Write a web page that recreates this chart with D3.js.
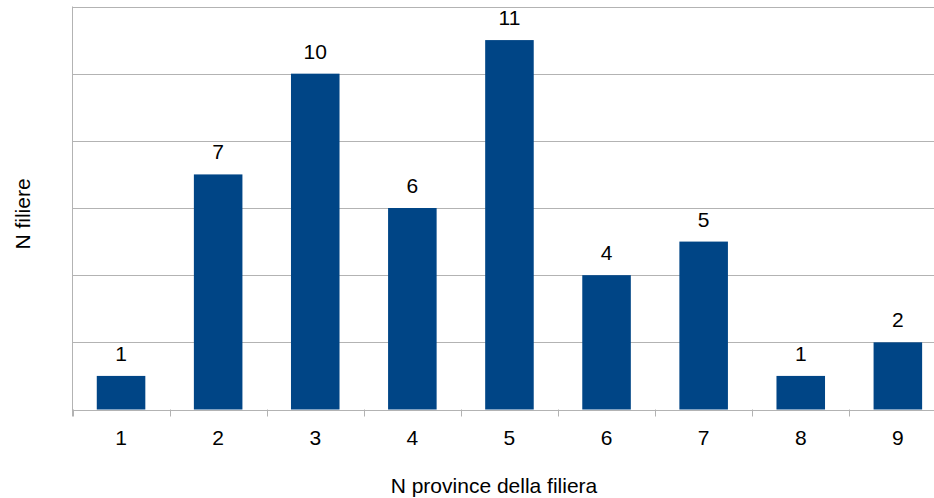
<!DOCTYPE html>
<html>
<head>
<meta charset="utf-8">
<script src="https://cdn.jsdelivr.net/npm/d3@7"></script>
<style>
    body { margin: 0; background: #fff; }
    svg { display: block; font-family: "Liberation Sans", Arial, sans-serif; }
</style>
</head>
<body>
<svg id="chart" width="934" height="498"></svg>
<script>
const categories = ["1", "2", "3", "4", "5", "6", "7", "8", "9"];
const values = [1, 7, 10, 6, 11, 4, 5, 1, 2];
const gridTicks = [0, 2, 4, 6, 8, 10, 12];
const xTitle = "N province della filiera";
const yTitle = "N filiere";

const svg = d3.select('#chart'),
    plotLeft = 72.5, plotTop = 6.5, plotBottom = 409.5,
    step = 97.1,
    plotRight = plotLeft + step * categories.length,
    fontSize = 21;

const x = d3.scaleBand()
    .domain(categories)
    .range([plotLeft, plotRight])
    .paddingInner(0.5)
    .paddingOuter(0.25);

const y = d3.scaleLinear()
    .domain([0, 12])
    .range([plotBottom, plotTop]);

// grid
svg.append("g")
    .selectAll("line")
    .data(gridTicks)
    .enter().append("line")
    .attr("x1", plotLeft).attr("x2", plotRight)
    .attr("y1", d => Math.round(y(d)) + 0.5)
    .attr("y2", d => Math.round(y(d)) + 0.5)
    .attr("stroke", "#b3b3b3")
    .attr("stroke-width", 1);

// y axis line
svg.append("line")
    .attr("x1", plotLeft).attr("x2", plotLeft)
    .attr("y1", plotTop).attr("y2", plotBottom + 7)
    .attr("stroke", "#b3b3b3");

// category boundary ticks
svg.append("g")
    .selectAll("line")
    .data(d3.range(categories.length + 1))
    .enter().append("line")
    .attr("x1", i => Math.round(plotLeft + i * step) + 0.5)
    .attr("x2", i => Math.round(plotLeft + i * step) + 0.5)
    .attr("y1", plotBottom).attr("y2", plotBottom + 7)
    .attr("stroke", "#b3b3b3");

// bars
svg.append("g")
    .selectAll("rect")
    .data(values)
    .enter().append("rect")
    .attr("x", (d, i) => x(categories[i]))
    .attr("width", x.bandwidth())
    .attr("y", d => y(d))
    .attr("height", d => plotBottom - y(d))
    .attr("fill", "#004586");

// value labels
svg.append("g")
    .selectAll("text")
    .data(values)
    .enter().append("text")
    .attr("x", (d, i) => x(categories[i]) + x.bandwidth() / 2)
    .attr("y", d => y(d) - 15)
    .attr("text-anchor", "middle")
    .attr("font-size", fontSize)
    .attr("fill", "#000")
    .text(d => d);

// category labels
svg.append("g")
    .selectAll("text")
    .data(categories)
    .enter().append("text")
    .attr("x", d => x(d) + x.bandwidth() / 2)
    .attr("y", 445)
    .attr("text-anchor", "middle")
    .attr("font-size", fontSize)
    .attr("fill", "#000")
    .text(d => d);

svg.append("text")
    .attr("x", 494)
    .attr("y", 493)
    .attr("text-anchor", "middle")
    .attr("font-size", fontSize)
    .text(xTitle);

svg.append("text")
    .attr("transform", "translate(30,214) rotate(-90)")
    .attr("text-anchor", "middle")
    .attr("font-size", fontSize)
    .text(yTitle);
</script>
</body>
</html>
